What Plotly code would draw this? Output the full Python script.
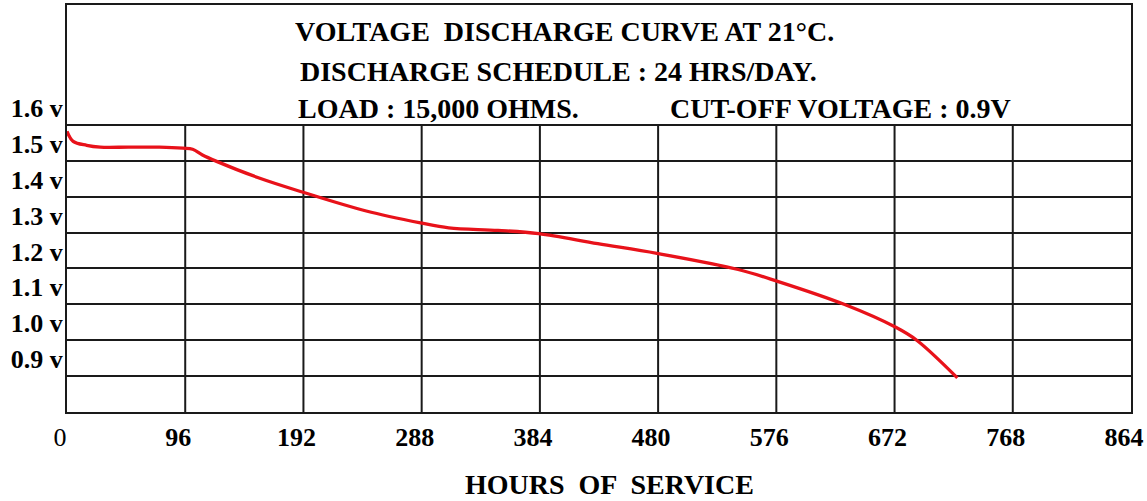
import plotly.graph_objects as go

# ---- data ----
hours = [0, 5, 16, 27, 50, 75, 94, 102, 110, 121, 156, 191, 243, 287, 310, 350, 383, 431, 479, 545, 577, 631, 673, 690, 723]
volts = [1.582, 1.554, 1.543, 1.538, 1.538, 1.538, 1.535, 1.532, 1.516, 1.499, 1.452, 1.413, 1.360, 1.327, 1.313, 1.306, 1.297, 1.269, 1.242, 1.197, 1.164, 1.100, 1.036, 1.000, 0.895]

x_ticks = [0, 96, 192, 288, 384, 480, 576, 672, 768, 864]
x_tick_text = ["0"] + ["<b>%d</b>" % v for v in x_ticks[1:]]
y_ticks = [0.9, 1.0, 1.1, 1.2, 1.3, 1.4, 1.5, 1.6]
y_tick_text = ["0.9 v", "1.0 v", "1.1 v", "1.2 v", "1.3 v", "1.4 v", "1.5 v", "1.6 v"]

header_lines = [
    "VOLTAGE  DISCHARGE CURVE AT 21°C.",
    "DISCHARGE SCHEDULE : 24 HRS/DAY.",
    "LOAD : 15,000 OHMS.",
    "CUT-OFF VOLTAGE : 0.9V",
]
x_title = "HOURS  OF  SERVICE"

FONT = "Liberation Serif"
W, H = 1147, 501
ML, MR, MT, MB = 67, 13, 3, 89
PW, PH = W - ML - MR, H - MT - MB

def px(xp):
    return (xp - ML) / PW

def py(yp):
    return (H - MB - yp) / PH

fig = go.Figure()
fig.add_trace(go.Scatter(
    x=hours, y=volts, mode="lines",
    line=dict(color="#e8121a", width=3.3, shape="spline", smoothing=1.0),
    hoverinfo="skip", showlegend=False,
))

# vertical grid lines only in the grid region (below header)
for xv in x_ticks[1:-1]:
    fig.add_shape(type="line", xref="x", yref="y", x0=xv, x1=xv, y0=0.8, y1=1.6,
                  line=dict(color="#1a1a1a", width=2), layer="below")

ann = []
ann.append(dict(text="<b>%s</b>" % header_lines[0], x=px(294), y=py(30), xanchor="left", yanchor="middle"))
ann.append(dict(text="<b>%s</b>" % header_lines[1], x=px(299), y=py(70), xanchor="left", yanchor="middle"))
ann.append(dict(text="<b>%s</b>" % header_lines[2], x=px(297), y=py(107), xanchor="left", yanchor="middle"))
ann.append(dict(text="<b>%s</b>" % header_lines[3], x=px(670), y=py(107), xanchor="left", yanchor="middle"))
ann.append(dict(text="<b>%s</b>" % x_title, x=px(611), y=py(485), xanchor="center", yanchor="middle"))
for a in ann:
    a.update(xref="paper", yref="paper", showarrow=False,
             font=dict(family=FONT, size=28, color="black"))

fig.update_layout(
    width=W, height=H,
    margin=dict(l=ML, r=MR, t=MT, b=MB, pad=0),
    paper_bgcolor="white", plot_bgcolor="white",
    annotations=ann,
    xaxis=dict(range=[0, 864], tickvals=x_ticks, ticktext=x_tick_text,
               showgrid=False, zeroline=False, ticks="",
               showline=True, mirror=True, linecolor="#1a1a1a", linewidth=2,
               tickfont=dict(family=FONT, size=26, color="black"),
               ticklabelshift=-7, ticklabelstandoff=1),
    yaxis=dict(range=[0.8, 1.934], tickvals=y_ticks, ticktext=["<b>%s</b>" % t for t in y_tick_text],
               showgrid=True, gridcolor="#1a1a1a", gridwidth=2, zeroline=False, ticks="",
               showline=True, mirror=True, linecolor="#1a1a1a", linewidth=2,
               tickfont=dict(family=FONT, size=26, color="black"),
               ticklabelshift=-17, ticklabelstandoff=-3),
)

fig.write_html("out.html", config={"displayModeBar": False},
               post_script="document.body.style.margin='0px';document.body.style.overflow='hidden';")
